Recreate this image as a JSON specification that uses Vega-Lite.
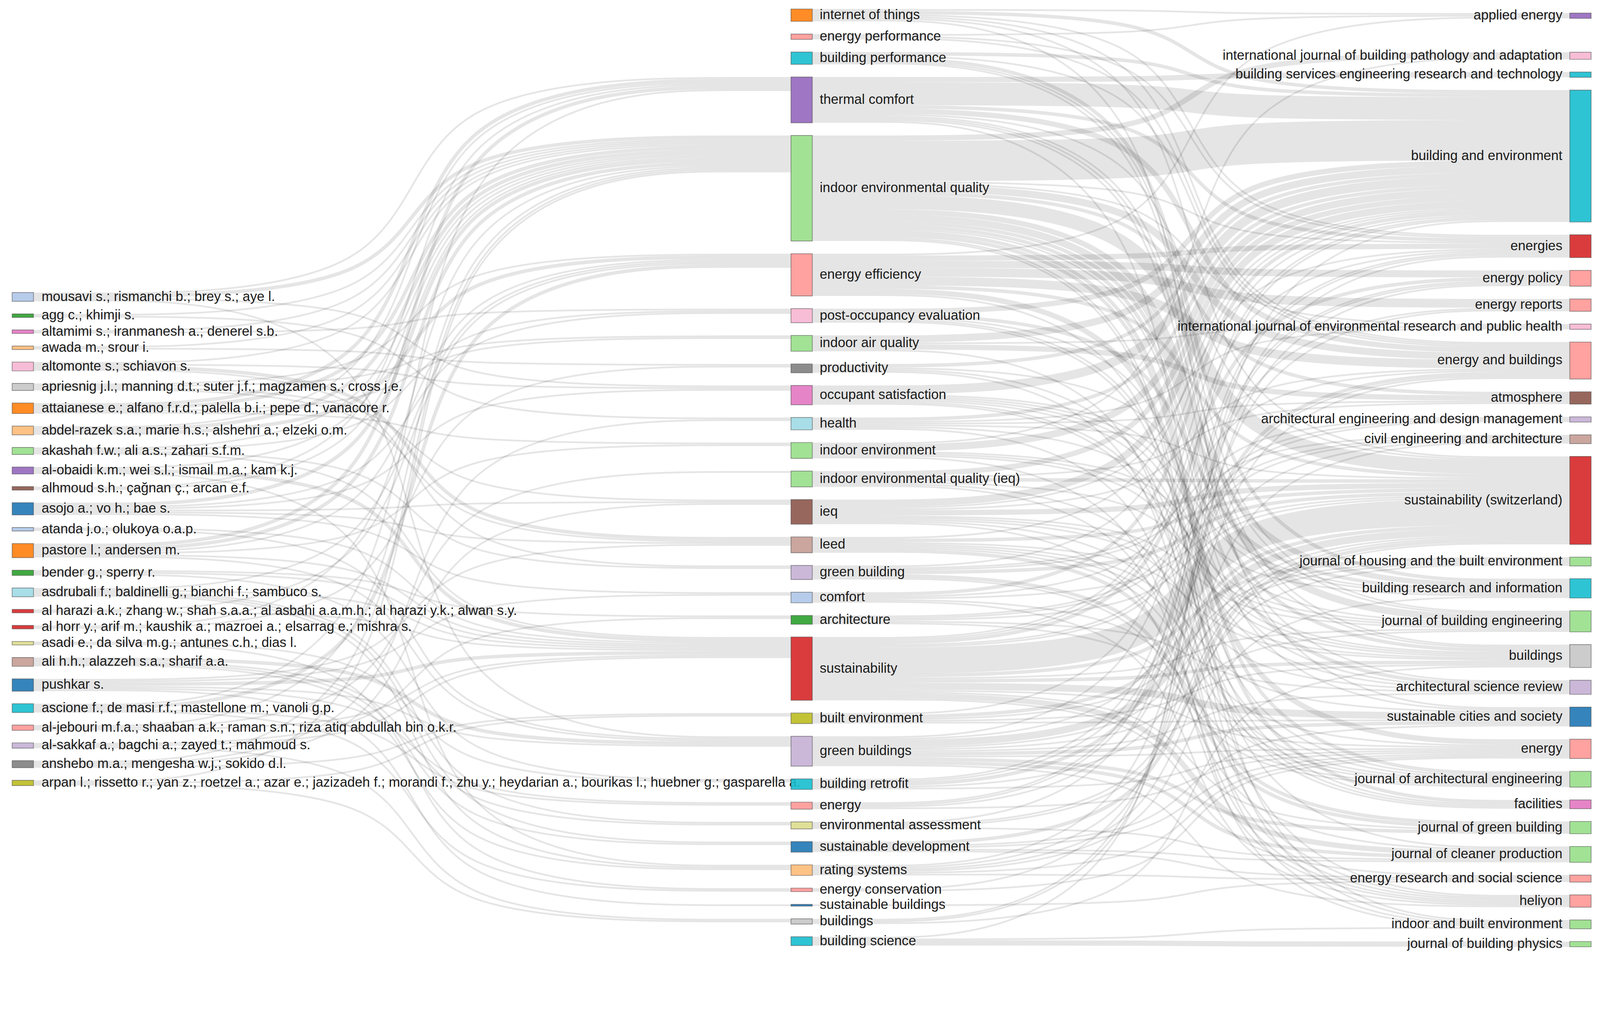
{
 "$schema": "https://vega.github.io/schema/vega-lite/v6.json",
 "autosize": {"type": "none"},
 "width": 4096, "height": 2465, "padding": 0,
 "background": "white",
 "config": {"view": {"stroke": null}},
 "datasets": {
  "authors": [
   {"name": "mousavi s.; rismanchi b.; brey s.; aye l.", "rank": 0},
   {"name": "agg c.; khimji s.", "rank": 1},
   {"name": "altamimi s.; iranmanesh a.; denerel s.b.", "rank": 2},
   {"name": "awada m.; srour i.", "rank": 3},
   {"name": "altomonte s.; schiavon s.", "rank": 4},
   {"name": "apriesnig j.l.; manning d.t.; suter j.f.; magzamen s.; cross j.e.", "rank": 5},
   {"name": "attaianese e.; alfano f.r.d.; palella b.i.; pepe d.; vanacore r.", "rank": 6},
   {"name": "abdel-razek s.a.; marie h.s.; alshehri a.; elzeki o.m.", "rank": 7},
   {"name": "akashah f.w.; ali a.s.; zahari s.f.m.", "rank": 8},
   {"name": "al-obaidi k.m.; wei s.l.; ismail m.a.; kam k.j.", "rank": 9},
   {"name": "alhmoud s.h.; çağnan ç.; arcan e.f.", "rank": 10},
   {"name": "asojo a.; vo h.; bae s.", "rank": 11},
   {"name": "atanda j.o.; olukoya o.a.p.", "rank": 12},
   {"name": "pastore l.; andersen m.", "rank": 13},
   {"name": "bender g.; sperry r.", "rank": 14},
   {"name": "asdrubali f.; baldinelli g.; bianchi f.; sambuco s.", "rank": 15},
   {"name": "al harazi a.k.; zhang w.; shah s.a.a.; al asbahi a.a.m.h.; al harazi y.k.; alwan s.y.", "rank": 16},
   {"name": "al horr y.; arif m.; kaushik a.; mazroei a.; elsarrag e.; mishra s.", "rank": 17},
   {"name": "asadi e.; da silva m.g.; antunes c.h.; dias l.", "rank": 18},
   {"name": "ali h.h.; alazzeh s.a.; sharif a.a.", "rank": 19},
   {"name": "pushkar s.", "rank": 20},
   {"name": "ascione f.; de masi r.f.; mastellone m.; vanoli g.p.", "rank": 21},
   {"name": "al-jebouri m.f.a.; shaaban a.k.; raman s.n.; riza atiq abdullah bin o.k.r.", "rank": 22},
   {"name": "al-sakkaf a.; bagchi a.; zayed t.; mahmoud s.", "rank": 23},
   {"name": "anshebo m.a.; mengesha w.j.; sokido d.l.", "rank": 24},
   {"name": "arpan l.; rissetto r.; yan z.; roetzel a.; azar e.; jazizadeh f.; morandi f.; zhu y.; heydarian a.; bourikas l.; huebner g.; gasparella a.", "rank": 25}
  ],
  "keywords": [
   {"name": "internet of things", "rank": 0},
   {"name": "energy performance", "rank": 1},
   {"name": "building performance", "rank": 2},
   {"name": "thermal comfort", "rank": 3},
   {"name": "indoor environmental quality", "rank": 4},
   {"name": "energy efficiency", "rank": 5},
   {"name": "post-occupancy evaluation", "rank": 6},
   {"name": "indoor air quality", "rank": 7},
   {"name": "productivity", "rank": 8},
   {"name": "occupant satisfaction", "rank": 9},
   {"name": "health", "rank": 10},
   {"name": "indoor environment", "rank": 11},
   {"name": "indoor environmental quality (ieq)", "rank": 12},
   {"name": "ieq", "rank": 13},
   {"name": "leed", "rank": 14},
   {"name": "green building", "rank": 15},
   {"name": "comfort", "rank": 16},
   {"name": "architecture", "rank": 17},
   {"name": "sustainability", "rank": 18},
   {"name": "built environment", "rank": 19},
   {"name": "green buildings", "rank": 20},
   {"name": "building retrofit", "rank": 21},
   {"name": "energy", "rank": 22},
   {"name": "environmental assessment", "rank": 23},
   {"name": "sustainable development", "rank": 24},
   {"name": "rating systems", "rank": 25},
   {"name": "energy conservation", "rank": 26},
   {"name": "sustainable buildings", "rank": 27},
   {"name": "buildings", "rank": 28},
   {"name": "building science", "rank": 29}
  ],
  "journals": [
   {"name": "applied energy", "rank": 0},
   {"name": "international journal of building pathology and adaptation", "rank": 1},
   {"name": "building services engineering research and technology", "rank": 2},
   {"name": "building and environment", "rank": 3},
   {"name": "energies", "rank": 4},
   {"name": "energy policy", "rank": 5},
   {"name": "energy reports", "rank": 6},
   {"name": "international journal of environmental research and public health", "rank": 7},
   {"name": "energy and buildings", "rank": 8},
   {"name": "atmosphere", "rank": 9},
   {"name": "architectural engineering and design management", "rank": 10},
   {"name": "civil engineering and architecture", "rank": 11},
   {"name": "sustainability (switzerland)", "rank": 12},
   {"name": "journal of housing and the built environment", "rank": 13},
   {"name": "building research and information", "rank": 14},
   {"name": "journal of building engineering", "rank": 15},
   {"name": "buildings", "rank": 16},
   {"name": "architectural science review", "rank": 17},
   {"name": "sustainable cities and society", "rank": 18},
   {"name": "energy", "rank": 19},
   {"name": "journal of architectural engineering", "rank": 20},
   {"name": "facilities", "rank": 21},
   {"name": "journal of green building", "rank": 22},
   {"name": "journal of cleaner production", "rank": 23},
   {"name": "energy research and social science", "rank": 24},
   {"name": "heliyon", "rank": 25},
   {"name": "indoor and built environment", "rank": 26},
   {"name": "journal of building physics", "rank": 27}
  ],
  "links": [
   {"s": "mousavi s.; rismanchi b.; brey s.; aye l.", "t": "indoor environmental quality", "v": 2, "stage": 1},
   {"s": "mousavi s.; rismanchi b.; brey s.; aye l.", "t": "thermal comfort", "v": 1, "stage": 1},
   {"s": "mousavi s.; rismanchi b.; brey s.; aye l.", "t": "occupant satisfaction", "v": 1, "stage": 1},
   {"s": "mousavi s.; rismanchi b.; brey s.; aye l.", "t": "green buildings", "v": 1, "stage": 1},
   {"s": "agg c.; khimji s.", "t": "indoor environmental quality", "v": 1, "stage": 1},
   {"s": "agg c.; khimji s.", "t": "health", "v": 1, "stage": 1},
   {"s": "altamimi s.; iranmanesh a.; denerel s.b.", "t": "indoor environmental quality", "v": 1, "stage": 1},
   {"s": "altamimi s.; iranmanesh a.; denerel s.b.", "t": "post-occupancy evaluation", "v": 1, "stage": 1},
   {"s": "awada m.; srour i.", "t": "indoor environmental quality", "v": 1, "stage": 1},
   {"s": "awada m.; srour i.", "t": "productivity", "v": 1, "stage": 1},
   {"s": "altomonte s.; schiavon s.", "t": "indoor environmental quality", "v": 1, "stage": 1},
   {"s": "altomonte s.; schiavon s.", "t": "occupant satisfaction", "v": 1, "stage": 1},
   {"s": "altomonte s.; schiavon s.", "t": "leed", "v": 2, "stage": 1},
   {"s": "altomonte s.; schiavon s.", "t": "green building", "v": 1, "stage": 1},
   {"s": "apriesnig j.l.; manning d.t.; suter j.f.; magzamen s.; cross j.e.", "t": "energy efficiency", "v": 1, "stage": 1},
   {"s": "apriesnig j.l.; manning d.t.; suter j.f.; magzamen s.; cross j.e.", "t": "indoor air quality", "v": 1, "stage": 1},
   {"s": "apriesnig j.l.; manning d.t.; suter j.f.; magzamen s.; cross j.e.", "t": "ieq", "v": 1, "stage": 1},
   {"s": "apriesnig j.l.; manning d.t.; suter j.f.; magzamen s.; cross j.e.", "t": "leed", "v": 1, "stage": 1},
   {"s": "attaianese e.; alfano f.r.d.; palella b.i.; pepe d.; vanacore r.", "t": "thermal comfort", "v": 2, "stage": 1},
   {"s": "attaianese e.; alfano f.r.d.; palella b.i.; pepe d.; vanacore r.", "t": "indoor environmental quality", "v": 2, "stage": 1},
   {"s": "attaianese e.; alfano f.r.d.; palella b.i.; pepe d.; vanacore r.", "t": "indoor air quality", "v": 1, "stage": 1},
   {"s": "attaianese e.; alfano f.r.d.; palella b.i.; pepe d.; vanacore r.", "t": "indoor environment", "v": 1, "stage": 1},
   {"s": "abdel-razek s.a.; marie h.s.; alshehri a.; elzeki o.m.", "t": "thermal comfort", "v": 1, "stage": 1},
   {"s": "abdel-razek s.a.; marie h.s.; alshehri a.; elzeki o.m.", "t": "indoor environmental quality", "v": 2, "stage": 1},
   {"s": "abdel-razek s.a.; marie h.s.; alshehri a.; elzeki o.m.", "t": "energy efficiency", "v": 2, "stage": 1},
   {"s": "akashah f.w.; ali a.s.; zahari s.f.m.", "t": "indoor environmental quality", "v": 1, "stage": 1},
   {"s": "akashah f.w.; ali a.s.; zahari s.f.m.", "t": "post-occupancy evaluation", "v": 1, "stage": 1},
   {"s": "akashah f.w.; ali a.s.; zahari s.f.m.", "t": "green building", "v": 1, "stage": 1},
   {"s": "akashah f.w.; ali a.s.; zahari s.f.m.", "t": "sustainability", "v": 1, "stage": 1},
   {"s": "al-obaidi k.m.; wei s.l.; ismail m.a.; kam k.j.", "t": "indoor environmental quality", "v": 1, "stage": 1},
   {"s": "al-obaidi k.m.; wei s.l.; ismail m.a.; kam k.j.", "t": "sustainability", "v": 2, "stage": 1},
   {"s": "al-obaidi k.m.; wei s.l.; ismail m.a.; kam k.j.", "t": "rating systems", "v": 1, "stage": 1},
   {"s": "alhmoud s.h.; çağnan ç.; arcan e.f.", "t": "thermal comfort", "v": 1, "stage": 1},
   {"s": "alhmoud s.h.; çağnan ç.; arcan e.f.", "t": "indoor environmental quality", "v": 1, "stage": 1},
   {"s": "asojo a.; vo h.; bae s.", "t": "indoor environmental quality", "v": 2, "stage": 1},
   {"s": "asojo a.; vo h.; bae s.", "t": "post-occupancy evaluation", "v": 1, "stage": 1},
   {"s": "asojo a.; vo h.; bae s.", "t": "occupant satisfaction", "v": 1, "stage": 1},
   {"s": "asojo a.; vo h.; bae s.", "t": "ieq", "v": 1, "stage": 1},
   {"s": "asojo a.; vo h.; bae s.", "t": "leed", "v": 1, "stage": 1},
   {"s": "asojo a.; vo h.; bae s.", "t": "comfort", "v": 1, "stage": 1},
   {"s": "atanda j.o.; olukoya o.a.p.", "t": "sustainability", "v": 1, "stage": 1},
   {"s": "atanda j.o.; olukoya o.a.p.", "t": "green buildings", "v": 1, "stage": 1},
   {"s": "pastore l.; andersen m.", "t": "thermal comfort", "v": 2, "stage": 1},
   {"s": "pastore l.; andersen m.", "t": "indoor environmental quality", "v": 2, "stage": 1},
   {"s": "pastore l.; andersen m.", "t": "energy efficiency", "v": 1, "stage": 1},
   {"s": "pastore l.; andersen m.", "t": "indoor environment", "v": 1, "stage": 1},
   {"s": "pastore l.; andersen m.", "t": "sustainability", "v": 1, "stage": 1},
   {"s": "pastore l.; andersen m.", "t": "green buildings", "v": 1, "stage": 1},
   {"s": "bender g.; sperry r.", "t": "architecture", "v": 1, "stage": 1},
   {"s": "bender g.; sperry r.", "t": "sustainability", "v": 1, "stage": 1},
   {"s": "bender g.; sperry r.", "t": "building retrofit", "v": 1, "stage": 1},
   {"s": "asdrubali f.; baldinelli g.; bianchi f.; sambuco s.", "t": "energy efficiency", "v": 1, "stage": 1},
   {"s": "asdrubali f.; baldinelli g.; bianchi f.; sambuco s.", "t": "sustainability", "v": 1, "stage": 1},
   {"s": "asdrubali f.; baldinelli g.; bianchi f.; sambuco s.", "t": "environmental assessment", "v": 1, "stage": 1},
   {"s": "asdrubali f.; baldinelli g.; bianchi f.; sambuco s.", "t": "sustainable development", "v": 1, "stage": 1},
   {"s": "asdrubali f.; baldinelli g.; bianchi f.; sambuco s.", "t": "rating systems", "v": 1, "stage": 1},
   {"s": "al harazi a.k.; zhang w.; shah s.a.a.; al asbahi a.a.m.h.; al harazi y.k.; alwan s.y.", "t": "energy efficiency", "v": 1, "stage": 1},
   {"s": "al harazi a.k.; zhang w.; shah s.a.a.; al asbahi a.a.m.h.; al harazi y.k.; alwan s.y.", "t": "sustainability", "v": 1, "stage": 1},
   {"s": "al horr y.; arif m.; kaushik a.; mazroei a.; elsarrag e.; mishra s.", "t": "indoor environmental quality", "v": 1, "stage": 1},
   {"s": "al horr y.; arif m.; kaushik a.; mazroei a.; elsarrag e.; mishra s.", "t": "productivity", "v": 1, "stage": 1},
   {"s": "asadi e.; da silva m.g.; antunes c.h.; dias l.", "t": "building retrofit", "v": 1, "stage": 1},
   {"s": "asadi e.; da silva m.g.; antunes c.h.; dias l.", "t": "energy conservation", "v": 1, "stage": 1},
   {"s": "ali h.h.; alazzeh s.a.; sharif a.a.", "t": "green buildings", "v": 2, "stage": 1},
   {"s": "ali h.h.; alazzeh s.a.; sharif a.a.", "t": "environmental assessment", "v": 1, "stage": 1},
   {"s": "ali h.h.; alazzeh s.a.; sharif a.a.", "t": "sustainable development", "v": 1, "stage": 1},
   {"s": "ali h.h.; alazzeh s.a.; sharif a.a.", "t": "rating systems", "v": 1, "stage": 1},
   {"s": "pushkar s.", "t": "leed", "v": 1, "stage": 1},
   {"s": "pushkar s.", "t": "comfort", "v": 1, "stage": 1},
   {"s": "pushkar s.", "t": "sustainability", "v": 2, "stage": 1},
   {"s": "pushkar s.", "t": "green buildings", "v": 1, "stage": 1},
   {"s": "pushkar s.", "t": "energy", "v": 1, "stage": 1},
   {"s": "pushkar s.", "t": "sustainable buildings", "v": 1, "stage": 1},
   {"s": "ascione f.; de masi r.f.; mastellone m.; vanoli g.p.", "t": "thermal comfort", "v": 1, "stage": 1},
   {"s": "ascione f.; de masi r.f.; mastellone m.; vanoli g.p.", "t": "energy efficiency", "v": 2, "stage": 1},
   {"s": "ascione f.; de masi r.f.; mastellone m.; vanoli g.p.", "t": "energy", "v": 1, "stage": 1},
   {"s": "ascione f.; de masi r.f.; mastellone m.; vanoli g.p.", "t": "energy conservation", "v": 1, "stage": 1},
   {"s": "al-jebouri m.f.a.; shaaban a.k.; raman s.n.; riza atiq abdullah bin o.k.r.", "t": "indoor environmental quality", "v": 1, "stage": 1},
   {"s": "al-jebouri m.f.a.; shaaban a.k.; raman s.n.; riza atiq abdullah bin o.k.r.", "t": "indoor environmental quality (ieq)", "v": 1, "stage": 1},
   {"s": "al-jebouri m.f.a.; shaaban a.k.; raman s.n.; riza atiq abdullah bin o.k.r.", "t": "sustainability", "v": 1, "stage": 1},
   {"s": "al-sakkaf a.; bagchi a.; zayed t.; mahmoud s.", "t": "architecture", "v": 1, "stage": 1},
   {"s": "al-sakkaf a.; bagchi a.; zayed t.; mahmoud s.", "t": "sustainability", "v": 1, "stage": 1},
   {"s": "al-sakkaf a.; bagchi a.; zayed t.; mahmoud s.", "t": "buildings", "v": 1, "stage": 1},
   {"s": "anshebo m.a.; mengesha w.j.; sokido d.l.", "t": "indoor environmental quality", "v": 1, "stage": 1},
   {"s": "anshebo m.a.; mengesha w.j.; sokido d.l.", "t": "health", "v": 1, "stage": 1},
   {"s": "anshebo m.a.; mengesha w.j.; sokido d.l.", "t": "ieq", "v": 1, "stage": 1},
   {"s": "anshebo m.a.; mengesha w.j.; sokido d.l.", "t": "built environment", "v": 1, "stage": 1},
   {"s": "arpan l.; rissetto r.; yan z.; roetzel a.; azar e.; jazizadeh f.; morandi f.; zhu y.; heydarian a.; bourikas l.; huebner g.; gasparella a.", "t": "indoor environmental quality", "v": 1, "stage": 1},
   {"s": "arpan l.; rissetto r.; yan z.; roetzel a.; azar e.; jazizadeh f.; morandi f.; zhu y.; heydarian a.; bourikas l.; huebner g.; gasparella a.", "t": "built environment", "v": 1, "stage": 1},
   {"s": "arpan l.; rissetto r.; yan z.; roetzel a.; azar e.; jazizadeh f.; morandi f.; zhu y.; heydarian a.; bourikas l.; huebner g.; gasparella a.", "t": "buildings", "v": 1, "stage": 1},

   {"s": "internet of things", "t": "applied energy", "v": 1, "stage": 2},
   {"s": "internet of things", "t": "building and environment", "v": 2, "stage": 2},
   {"s": "internet of things", "t": "energies", "v": 1, "stage": 2},
   {"s": "internet of things", "t": "energy and buildings", "v": 1, "stage": 2},
   {"s": "internet of things", "t": "sustainability (switzerland)", "v": 1, "stage": 2},
   {"s": "internet of things", "t": "sustainable cities and society", "v": 1, "stage": 2},
   {"s": "energy performance", "t": "applied energy", "v": 1, "stage": 2},
   {"s": "energy performance", "t": "energies", "v": 1, "stage": 2},
   {"s": "energy performance", "t": "energy and buildings", "v": 1, "stage": 2},
   {"s": "building performance", "t": "building and environment", "v": 2, "stage": 2},
   {"s": "building performance", "t": "energy and buildings", "v": 1, "stage": 2},
   {"s": "building performance", "t": "building research and information", "v": 2, "stage": 2},
   {"s": "building performance", "t": "journal of building engineering", "v": 1, "stage": 2},
   {"s": "building performance", "t": "buildings", "v": 1, "stage": 2},
   {"s": "thermal comfort", "t": "building services engineering research and technology", "v": 3, "stage": 2},
   {"s": "thermal comfort", "t": "building and environment", "v": 13, "stage": 2},
   {"s": "thermal comfort", "t": "energies", "v": 2, "stage": 2},
   {"s": "thermal comfort", "t": "energy and buildings", "v": 3, "stage": 2},
   {"s": "thermal comfort", "t": "sustainability (switzerland)", "v": 1, "stage": 2},
   {"s": "thermal comfort", "t": "journal of building engineering", "v": 1, "stage": 2},
   {"s": "thermal comfort", "t": "buildings", "v": 1, "stage": 2},
   {"s": "thermal comfort", "t": "architectural science review", "v": 1, "stage": 2},
   {"s": "thermal comfort", "t": "indoor and built environment", "v": 1, "stage": 2},
   {"s": "indoor environmental quality", "t": "international journal of building pathology and adaptation", "v": 3, "stage": 2},
   {"s": "indoor environmental quality", "t": "building and environment", "v": 23, "stage": 2},
   {"s": "indoor environmental quality", "t": "energies", "v": 1, "stage": 2},
   {"s": "indoor environmental quality", "t": "international journal of environmental research and public health", "v": 1, "stage": 2},
   {"s": "indoor environmental quality", "t": "energy and buildings", "v": 4, "stage": 2},
   {"s": "indoor environmental quality", "t": "atmosphere", "v": 2, "stage": 2},
   {"s": "indoor environmental quality", "t": "sustainability (switzerland)", "v": 8, "stage": 2},
   {"s": "indoor environmental quality", "t": "building research and information", "v": 3, "stage": 2},
   {"s": "indoor environmental quality", "t": "journal of building engineering", "v": 4, "stage": 2},
   {"s": "indoor environmental quality", "t": "buildings", "v": 2, "stage": 2},
   {"s": "indoor environmental quality", "t": "architectural science review", "v": 2, "stage": 2},
   {"s": "indoor environmental quality", "t": "sustainable cities and society", "v": 1, "stage": 2},
   {"s": "indoor environmental quality", "t": "journal of architectural engineering", "v": 2, "stage": 2},
   {"s": "indoor environmental quality", "t": "facilities", "v": 2, "stage": 2},
   {"s": "indoor environmental quality", "t": "heliyon", "v": 1, "stage": 2},
   {"s": "indoor environmental quality", "t": "indoor and built environment", "v": 1, "stage": 2},
   {"s": "energy efficiency", "t": "applied energy", "v": 1, "stage": 2},
   {"s": "energy efficiency", "t": "energies", "v": 3, "stage": 2},
   {"s": "energy efficiency", "t": "energy policy", "v": 4, "stage": 2},
   {"s": "energy efficiency", "t": "energy reports", "v": 5, "stage": 2},
   {"s": "energy efficiency", "t": "energy and buildings", "v": 5, "stage": 2},
   {"s": "energy efficiency", "t": "sustainability (switzerland)", "v": 2, "stage": 2},
   {"s": "energy efficiency", "t": "energy", "v": 3, "stage": 2},
   {"s": "energy efficiency", "t": "journal of cleaner production", "v": 1, "stage": 2},
   {"s": "post-occupancy evaluation", "t": "building and environment", "v": 3, "stage": 2},
   {"s": "post-occupancy evaluation", "t": "building research and information", "v": 2, "stage": 2},
   {"s": "post-occupancy evaluation", "t": "architectural science review", "v": 1, "stage": 2},
   {"s": "post-occupancy evaluation", "t": "journal of architectural engineering", "v": 1, "stage": 2},
   {"s": "post-occupancy evaluation", "t": "facilities", "v": 1, "stage": 2},
   {"s": "indoor air quality", "t": "building and environment", "v": 4, "stage": 2},
   {"s": "indoor air quality", "t": "international journal of environmental research and public health", "v": 1, "stage": 2},
   {"s": "indoor air quality", "t": "atmosphere", "v": 3, "stage": 2},
   {"s": "indoor air quality", "t": "heliyon", "v": 1, "stage": 2},
   {"s": "productivity", "t": "building and environment", "v": 2, "stage": 2},
   {"s": "productivity", "t": "building research and information", "v": 1, "stage": 2},
   {"s": "productivity", "t": "facilities", "v": 1, "stage": 2},
   {"s": "productivity", "t": "indoor and built environment", "v": 1, "stage": 2},
   {"s": "occupant satisfaction", "t": "building and environment", "v": 5, "stage": 2},
   {"s": "occupant satisfaction", "t": "building research and information", "v": 1, "stage": 2},
   {"s": "occupant satisfaction", "t": "journal of building engineering", "v": 1, "stage": 2},
   {"s": "occupant satisfaction", "t": "buildings", "v": 1, "stage": 2},
   {"s": "occupant satisfaction", "t": "architectural science review", "v": 1, "stage": 2},
   {"s": "occupant satisfaction", "t": "journal of architectural engineering", "v": 1, "stage": 2},
   {"s": "occupant satisfaction", "t": "facilities", "v": 1, "stage": 2},
   {"s": "health", "t": "building and environment", "v": 2, "stage": 2},
   {"s": "health", "t": "international journal of environmental research and public health", "v": 1, "stage": 2},
   {"s": "health", "t": "atmosphere", "v": 1, "stage": 2},
   {"s": "health", "t": "sustainability (switzerland)", "v": 1, "stage": 2},
   {"s": "health", "t": "buildings", "v": 1, "stage": 2},
   {"s": "health", "t": "heliyon", "v": 1, "stage": 2},
   {"s": "indoor environment", "t": "international journal of building pathology and adaptation", "v": 1, "stage": 2},
   {"s": "indoor environment", "t": "building and environment", "v": 4, "stage": 2},
   {"s": "indoor environment", "t": "building research and information", "v": 1, "stage": 2},
   {"s": "indoor environment", "t": "journal of building engineering", "v": 1, "stage": 2},
   {"s": "indoor environment", "t": "buildings", "v": 1, "stage": 2},
   {"s": "indoor environment", "t": "indoor and built environment", "v": 1, "stage": 2},
   {"s": "indoor environmental quality (ieq)", "t": "building and environment", "v": 3, "stage": 2},
   {"s": "indoor environmental quality (ieq)", "t": "atmosphere", "v": 1, "stage": 2},
   {"s": "indoor environmental quality (ieq)", "t": "sustainability (switzerland)", "v": 2, "stage": 2},
   {"s": "indoor environmental quality (ieq)", "t": "journal of building engineering", "v": 1, "stage": 2},
   {"s": "indoor environmental quality (ieq)", "t": "journal of architectural engineering", "v": 1, "stage": 2},
   {"s": "indoor environmental quality (ieq)", "t": "heliyon", "v": 1, "stage": 2},
   {"s": "ieq", "t": "building and environment", "v": 4, "stage": 2},
   {"s": "ieq", "t": "energies", "v": 1, "stage": 2},
   {"s": "ieq", "t": "energy and buildings", "v": 1, "stage": 2},
   {"s": "ieq", "t": "sustainability (switzerland)", "v": 3, "stage": 2},
   {"s": "ieq", "t": "journal of building engineering", "v": 1, "stage": 2},
   {"s": "ieq", "t": "buildings", "v": 1, "stage": 2},
   {"s": "ieq", "t": "architectural science review", "v": 1, "stage": 2},
   {"s": "ieq", "t": "journal of architectural engineering", "v": 1, "stage": 2},
   {"s": "ieq", "t": "heliyon", "v": 1, "stage": 2},
   {"s": "leed", "t": "building and environment", "v": 1, "stage": 2},
   {"s": "leed", "t": "sustainability (switzerland)", "v": 2, "stage": 2},
   {"s": "leed", "t": "buildings", "v": 1, "stage": 2},
   {"s": "leed", "t": "sustainable cities and society", "v": 1, "stage": 2},
   {"s": "leed", "t": "energy", "v": 1, "stage": 2},
   {"s": "leed", "t": "journal of architectural engineering", "v": 1, "stage": 2},
   {"s": "leed", "t": "journal of green building", "v": 2, "stage": 2},
   {"s": "green building", "t": "building and environment", "v": 1, "stage": 2},
   {"s": "green building", "t": "architectural engineering and design management", "v": 1, "stage": 2},
   {"s": "green building", "t": "civil engineering and architecture", "v": 1, "stage": 2},
   {"s": "green building", "t": "sustainability (switzerland)", "v": 2, "stage": 2},
   {"s": "green building", "t": "journal of green building", "v": 2, "stage": 2},
   {"s": "green building", "t": "journal of cleaner production", "v": 1, "stage": 2},
   {"s": "comfort", "t": "building and environment", "v": 2, "stage": 2},
   {"s": "comfort", "t": "energy and buildings", "v": 1, "stage": 2},
   {"s": "comfort", "t": "sustainability (switzerland)", "v": 1, "stage": 2},
   {"s": "comfort", "t": "journal of architectural engineering", "v": 1, "stage": 2},
   {"s": "comfort", "t": "heliyon", "v": 1, "stage": 2},
   {"s": "architecture", "t": "architectural engineering and design management", "v": 1, "stage": 2},
   {"s": "architecture", "t": "civil engineering and architecture", "v": 1, "stage": 2},
   {"s": "architecture", "t": "sustainability (switzerland)", "v": 1, "stage": 2},
   {"s": "architecture", "t": "architectural science review", "v": 1, "stage": 2},
   {"s": "architecture", "t": "journal of architectural engineering", "v": 1, "stage": 2},
   {"s": "sustainability", "t": "building and environment", "v": 1, "stage": 2},
   {"s": "sustainability", "t": "energies", "v": 1, "stage": 2},
   {"s": "sustainability", "t": "energy policy", "v": 2, "stage": 2},
   {"s": "sustainability", "t": "architectural engineering and design management", "v": 1, "stage": 2},
   {"s": "sustainability", "t": "civil engineering and architecture", "v": 1, "stage": 2},
   {"s": "sustainability", "t": "sustainability (switzerland)", "v": 15, "stage": 2},
   {"s": "sustainability", "t": "journal of housing and the built environment", "v": 2, "stage": 2},
   {"s": "sustainability", "t": "journal of building engineering", "v": 1, "stage": 2},
   {"s": "sustainability", "t": "buildings", "v": 2, "stage": 2},
   {"s": "sustainability", "t": "sustainable cities and society", "v": 4, "stage": 2},
   {"s": "sustainability", "t": "energy", "v": 1, "stage": 2},
   {"s": "sustainability", "t": "journal of green building", "v": 1, "stage": 2},
   {"s": "sustainability", "t": "journal of cleaner production", "v": 3, "stage": 2},
   {"s": "sustainability", "t": "energy research and social science", "v": 1, "stage": 2},
   {"s": "built environment", "t": "building and environment", "v": 1, "stage": 2},
   {"s": "built environment", "t": "sustainability (switzerland)", "v": 2, "stage": 2},
   {"s": "built environment", "t": "journal of housing and the built environment", "v": 1, "stage": 2},
   {"s": "built environment", "t": "buildings", "v": 1, "stage": 2},
   {"s": "built environment", "t": "sustainable cities and society", "v": 1, "stage": 2},
   {"s": "green buildings", "t": "building and environment", "v": 1, "stage": 2},
   {"s": "green buildings", "t": "civil engineering and architecture", "v": 1, "stage": 2},
   {"s": "green buildings", "t": "sustainability (switzerland)", "v": 4, "stage": 2},
   {"s": "green buildings", "t": "journal of housing and the built environment", "v": 1, "stage": 2},
   {"s": "green buildings", "t": "journal of building engineering", "v": 1, "stage": 2},
   {"s": "green buildings", "t": "architectural science review", "v": 1, "stage": 2},
   {"s": "green buildings", "t": "sustainable cities and society", "v": 2, "stage": 2},
   {"s": "green buildings", "t": "energy", "v": 1, "stage": 2},
   {"s": "green buildings", "t": "journal of green building", "v": 2, "stage": 2},
   {"s": "green buildings", "t": "journal of cleaner production", "v": 2, "stage": 2},
   {"s": "green buildings", "t": "heliyon", "v": 1, "stage": 2},
   {"s": "building retrofit", "t": "energies", "v": 1, "stage": 2},
   {"s": "building retrofit", "t": "energy reports", "v": 1, "stage": 2},
   {"s": "building retrofit", "t": "energy and buildings", "v": 2, "stage": 2},
   {"s": "building retrofit", "t": "sustainability (switzerland)", "v": 1, "stage": 2},
   {"s": "building retrofit", "t": "energy", "v": 1, "stage": 2},
   {"s": "energy", "t": "energies", "v": 1, "stage": 2},
   {"s": "energy", "t": "energy policy", "v": 1, "stage": 2},
   {"s": "energy", "t": "energy and buildings", "v": 1, "stage": 2},
   {"s": "energy", "t": "energy", "v": 1, "stage": 2},
   {"s": "environmental assessment", "t": "energy policy", "v": 1, "stage": 2},
   {"s": "environmental assessment", "t": "sustainability (switzerland)", "v": 1, "stage": 2},
   {"s": "environmental assessment", "t": "journal of housing and the built environment", "v": 1, "stage": 2},
   {"s": "environmental assessment", "t": "journal of cleaner production", "v": 1, "stage": 2},
   {"s": "sustainable development", "t": "sustainability (switzerland)", "v": 2, "stage": 2},
   {"s": "sustainable development", "t": "sustainable cities and society", "v": 1, "stage": 2},
   {"s": "sustainable development", "t": "energy", "v": 1, "stage": 2},
   {"s": "sustainable development", "t": "journal of cleaner production", "v": 1, "stage": 2},
   {"s": "sustainable development", "t": "energy research and social science", "v": 1, "stage": 2},
   {"s": "rating systems", "t": "energy reports", "v": 1, "stage": 2},
   {"s": "rating systems", "t": "civil engineering and architecture", "v": 1, "stage": 2},
   {"s": "rating systems", "t": "sustainability (switzerland)", "v": 1, "stage": 2},
   {"s": "rating systems", "t": "building research and information", "v": 1, "stage": 2},
   {"s": "rating systems", "t": "energy", "v": 1, "stage": 2},
   {"s": "rating systems", "t": "energy research and social science", "v": 1, "stage": 2},
   {"s": "energy conservation", "t": "energy and buildings", "v": 1, "stage": 2},
   {"s": "energy conservation", "t": "energy", "v": 1, "stage": 2},
   {"s": "sustainable buildings", "t": "energy research and social science", "v": 1, "stage": 2},
   {"s": "buildings", "t": "energies", "v": 1, "stage": 2},
   {"s": "buildings", "t": "energy policy", "v": 1, "stage": 2},
   {"s": "buildings", "t": "buildings", "v": 1, "stage": 2},
   {"s": "building science", "t": "building and environment", "v": 1, "stage": 2},
   {"s": "building science", "t": "indoor and built environment", "v": 1, "stage": 2},
   {"s": "building science", "t": "journal of building physics", "v": 3, "stage": 2}
  ]
 },
 "data": {"name": "links"},
 "transform": [
  {"lookup": "s", "from": {"data": {"name": "authors"}, "key": "name", "fields": ["rank"]}, "as": ["sa"]},
  {"lookup": "s", "from": {"data": {"name": "keywords"}, "key": "name", "fields": ["rank"]}, "as": ["sk"]},
  {"lookup": "t", "from": {"data": {"name": "keywords"}, "key": "name", "fields": ["rank"]}, "as": ["tk"]},
  {"lookup": "t", "from": {"data": {"name": "journals"}, "key": "name", "fields": ["rank"]}, "as": ["tj"]},
  {"calculate": "datum.stage == 1 ? datum.sa : datum.sk", "as": "sRank"},
  {"calculate": "datum.stage == 1 ? datum.tk : datum.tj", "as": "tRank"},
  {"calculate": "datum.stage + '|' + datum.s + '|' + datum.t", "as": "linkId"},
  {"fold": ["s", "t"], "as": ["end", "node"]},
  {"calculate": "datum.end == 's' ? datum.stage - 1 : datum.stage", "as": "col"},
  {"calculate": "datum.end == 's' ? datum.sRank : datum.tRank", "as": "rank"},
  {"calculate": "datum.end == 's' ? datum.tRank : datum.sRank", "as": "other"},
  {"calculate": "datum.col + '|' + datum.node", "as": "nodeKey"},
  {"calculate": "datum.col == 1 && datum.end == 't' ? 0 : datum.v", "as": "sizeC"},
  {"joinaggregate": [{"op": "sum", "field": "sizeC", "as": "size"}], "groupby": ["nodeKey"]},
  {"window": [{"op": "sum", "field": "sizeC", "as": "cumCol"}], "groupby": ["col"], "sort": [{"field": "rank", "order": "ascending"}], "frame": [null, 0], "ignorePeers": false},
  {"calculate": "(datum.col == 0 ? 166.3 : datum.col == 1 ? 5.13 : 7.45) + datum.cumCol - datum.size + datum.rank * (datum.col == 0 ? 7.13 : datum.col == 1 ? 7.22 : 7.25) + (datum.col == 2 && datum.rank > 0 ? 12 : 0)", "as": "nodeY0"},
  {"window": [{"op": "sum", "field": "v", "as": "cumLink"}], "groupby": ["nodeKey", "end"], "sort": [{"field": "other", "order": "ascending"}], "frame": [null, 0]},
  {"calculate": "datum.nodeY0 + datum.cumLink - datum.v / 2", "as": "ly"}
 ],
 "layer": [
  {
   "transform": [
    {"calculate": "datum.end == 's' ? datum.col + 0.0274 : datum.col", "as": "xEdge"},
    {"calculate": "datum.end == 's' ? datum.col + 0.5137 : datum.col - 0.4863", "as": "xMid"},
    {"fold": ["xEdge", "xMid"], "as": ["ptype", "px"]},
    {"calculate": "datum.end == 's' ? (datum.ptype == 'xEdge' ? 0 : 1) : (datum.ptype == 'xEdge' ? 3 : 2)", "as": "pi"}
   ],
   "mark": {"type": "line", "interpolate": "basis", "stroke": "#000000", "strokeOpacity": 0.1, "strokeCap": "butt"},
   "encoding": {
    "x": {"field": "px", "type": "quantitative", "scale": {"domain": [-0.0156, 2.0388], "nice": false, "zero": false}, "axis": null},
    "y": {"field": "ly", "type": "quantitative", "scale": {"domain": [0, 547.1], "reverse": true, "nice": false, "zero": false}, "axis": null},
    "detail": {"field": "linkId", "type": "nominal"},
    "order": {"field": "pi", "type": "quantitative"},
    "strokeWidth": {"field": "v", "type": "quantitative", "scale": {"domain": [0, 1], "range": [0, 4.506]}, "legend": null}
   }
  },
  {
   "transform": [
    {"aggregate": [{"op": "min", "field": "nodeY0", "as": "y0"}, {"op": "max", "field": "size", "as": "size"}], "groupby": ["nodeKey", "node", "col"]},
    {"calculate": "datum.y0 + datum.size", "as": "y1"},
    {"calculate": "datum.y0 + datum.size / 2", "as": "ym"},
    {"calculate": "datum.col + 0.0274", "as": "xr"}
   ],
   "layer": [
    {
     "transform": [{"filter": "datum.col == 0"}],
     "mark": {"type": "text", "align": "left", "baseline": "middle", "dx": 20.7, "font": "Liberation Sans", "fontSize": 34.7, "fill": "#1a1a1a"},
     "encoding": {
      "x": {"field": "xr", "type": "quantitative", "scale": {"domain": [-0.0156, 2.0388], "nice": false, "zero": false}, "axis": null},
      "y": {"field": "ym", "type": "quantitative", "scale": {"domain": [0, 547.1], "reverse": true, "nice": false, "zero": false}, "axis": null},
      "text": {"field": "node", "type": "nominal"}
     }
    },
    {
     "mark": {"type": "rect", "fillOpacity": 0.9, "stroke": "#444444", "strokeOpacity": 0.55, "strokeWidth": 1.9},
     "encoding": {
      "x": {"field": "col", "type": "quantitative", "scale": {"domain": [-0.0156, 2.0388], "nice": false, "zero": false}, "axis": null},
      "x2": {"field": "xr"},
      "y": {"field": "y0", "type": "quantitative", "scale": {"domain": [0, 547.1], "reverse": true, "nice": false, "zero": false}, "axis": null},
      "y2": {"field": "y1"},
      "color": {"field": "node", "type": "nominal", "legend": null, "scale": {
       "domain": ["mousavi s.; rismanchi b.; brey s.; aye l.", "agg c.; khimji s.", "altamimi s.; iranmanesh a.; denerel s.b.", "awada m.; srour i.", "altomonte s.; schiavon s.", "apriesnig j.l.; manning d.t.; suter j.f.; magzamen s.; cross j.e.", "attaianese e.; alfano f.r.d.; palella b.i.; pepe d.; vanacore r.", "abdel-razek s.a.; marie h.s.; alshehri a.; elzeki o.m.", "akashah f.w.; ali a.s.; zahari s.f.m.", "al-obaidi k.m.; wei s.l.; ismail m.a.; kam k.j.", "alhmoud s.h.; çağnan ç.; arcan e.f.", "asojo a.; vo h.; bae s.", "atanda j.o.; olukoya o.a.p.", "pastore l.; andersen m.", "bender g.; sperry r.", "asdrubali f.; baldinelli g.; bianchi f.; sambuco s.", "al harazi a.k.; zhang w.; shah s.a.a.; al asbahi a.a.m.h.; al harazi y.k.; alwan s.y.", "al horr y.; arif m.; kaushik a.; mazroei a.; elsarrag e.; mishra s.", "asadi e.; da silva m.g.; antunes c.h.; dias l.", "ali h.h.; alazzeh s.a.; sharif a.a.", "pushkar s.", "ascione f.; de masi r.f.; mastellone m.; vanoli g.p.", "al-jebouri m.f.a.; shaaban a.k.; raman s.n.; riza atiq abdullah bin o.k.r.", "al-sakkaf a.; bagchi a.; zayed t.; mahmoud s.", "anshebo m.a.; mengesha w.j.; sokido d.l.", "arpan l.; rissetto r.; yan z.; roetzel a.; azar e.; jazizadeh f.; morandi f.; zhu y.; heydarian a.; bourikas l.; huebner g.; gasparella a.",
        "internet of things", "energy performance", "building performance", "thermal comfort", "indoor environmental quality", "energy efficiency", "post-occupancy evaluation", "indoor air quality", "productivity", "occupant satisfaction", "health", "indoor environment", "indoor environmental quality (ieq)", "ieq", "leed", "green building", "comfort", "architecture", "sustainability", "built environment", "green buildings", "building retrofit", "energy", "environmental assessment", "sustainable development", "rating systems", "energy conservation", "sustainable buildings", "buildings", "building science",
        "applied energy", "international journal of building pathology and adaptation", "building services engineering research and technology", "building and environment", "energies", "energy policy", "energy reports", "international journal of environmental research and public health", "energy and buildings", "atmosphere", "architectural engineering and design management", "civil engineering and architecture", "sustainability (switzerland)", "journal of housing and the built environment", "building research and information", "journal of building engineering", "architectural science review", "sustainable cities and society", "journal of architectural engineering", "facilities", "journal of green building", "journal of cleaner production", "energy research and social science", "heliyon", "indoor and built environment", "journal of building physics"],
       "range": ["#aec7e8", "#2ca02c", "#e377c2", "#ffbb78", "#f7b6d2", "#c7c7c7", "#ff7f0e", "#ffbb78", "#98df8a", "#9467bd", "#8c564b", "#1f77b4", "#aec7e8", "#ff7f0e", "#2ca02c", "#9edae5", "#d62728", "#d62728", "#dbdb8d", "#c49c94", "#1f77b4", "#17becf", "#ff9896", "#c5b0d5", "#7f7f7f", "#bcbd22",
        "#ff7f0e", "#ff9896", "#17becf", "#9467bd", "#98df8a", "#ff9896", "#f7b6d2", "#98df8a", "#7f7f7f", "#e377c2", "#9edae5", "#98df8a", "#98df8a", "#8c564b", "#c49c94", "#c5b0d5", "#aec7e8", "#2ca02c", "#d62728", "#bcbd22", "#c5b0d5", "#17becf", "#ff9896", "#dbdb8d", "#1f77b4", "#ffbb78", "#ff9896", "#1f77b4", "#c7c7c7", "#17becf",
        "#9467bd", "#f7b6d2", "#17becf", "#17becf", "#d62728", "#ff9896", "#ff9896", "#f7b6d2", "#ff9896", "#8c564b", "#c5b0d5", "#c49c94", "#d62728", "#98df8a", "#17becf", "#98df8a", "#c5b0d5", "#1f77b4", "#98df8a", "#e377c2", "#98df8a", "#98df8a", "#ff9896", "#ff9896", "#98df8a", "#98df8a"]
      }}
     }
    },
    {
     "transform": [{"filter": "datum.col == 1"}],
     "mark": {"type": "text", "align": "left", "baseline": "middle", "dx": 18.9, "font": "Liberation Sans", "fontSize": 34.7, "fill": "#1a1a1a"},
     "encoding": {
      "x": {"field": "xr", "type": "quantitative", "scale": {"domain": [-0.0156, 2.0388], "nice": false, "zero": false}, "axis": null},
      "y": {"field": "ym", "type": "quantitative", "scale": {"domain": [0, 547.1], "reverse": true, "nice": false, "zero": false}, "axis": null},
      "text": {"field": "node", "type": "nominal"}
     }
    },
    {
     "transform": [{"filter": "datum.col == 2"}],
     "mark": {"type": "text", "align": "right", "baseline": "middle", "dx": -18.9, "font": "Liberation Sans", "fontSize": 34.7, "fill": "#1a1a1a"},
     "encoding": {
      "x": {"field": "col", "type": "quantitative", "scale": {"domain": [-0.0156, 2.0388], "nice": false, "zero": false}, "axis": null},
      "y": {"field": "ym", "type": "quantitative", "scale": {"domain": [0, 547.1], "reverse": true, "nice": false, "zero": false}, "axis": null},
      "text": {"field": "node", "type": "nominal"}
     }
    }
   ]
  }
 ]
}
